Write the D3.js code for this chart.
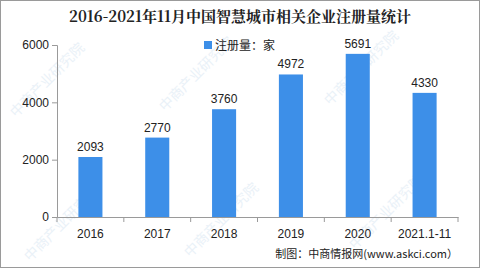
<!DOCTYPE html>
<html>
<head>
<meta charset="utf-8">
<script src="https://cdn.jsdelivr.net/npm/d3@7"></script>
<style>
  body { margin: 0; background: #fff; }
  svg { display: block; }
</style>
</head>
<body>
<svg id="chart" width="480" height="268"></svg>
<script>
// data
var years = ["2016", "2017", "2018", "2019", "2020", "2021.1-11"];
var registered = [2093, 2770, 3760, 4972, 5691, 4330];
var yTicks = [0, 2000, 4000, 6000];

var svg = d3.select("#chart");

// frame
svg.append("rect")
  .attr("x", 0.5).attr("y", 0.5)
  .attr("width", 479).attr("height", 267)
  .attr("fill", "#fff")
  .attr("stroke", "#9a9a9a");

// faint watermarks, kept inside the frame
var marks = [[16, 118], [165, 112], [330, 106], [30, 262], [190, 258], [355, 250]];
svg.selectAll("text.wm").data(marks).enter().append("text")
  .attr("class", "wm")
  .attr("transform", function(d) { return "translate(" + d[0] + "," + d[1] + ") rotate(-45)"; })
  .attr("font-family", "Noto Sans CJK SC")
  .attr("font-size", 14)
  .attr("fill", "#dce9f4")
  .attr("opacity", 0.6)
  .text("中商产业研究院");

var x = d3.scaleBand().domain(years).range([57, 458]).paddingInner(0.64).paddingOuter(0.32);
var y = d3.scaleLinear().domain([0, 6000]).range([217, 45]);

// title
svg.append("text")
  .attr("x", 240).attr("y", 22)
  .attr("text-anchor", "middle")
  .attr("font-family", "Noto Serif CJK SC, Noto Sans CJK SC")
  .attr("font-weight", "bold")
  .attr("font-size", 15)
  .attr("fill", "#222")
  .text("2016-2021年11月中国智慧城市相关企业注册量统计");

// axes
var yAxis = svg.append("g")
  .attr("transform", "translate(57,0)")
  .call(d3.axisLeft(y).tickValues(yTicks).tickSize(5).tickPadding(3).tickFormat(d3.format("d")));

var xAxis = svg.append("g")
  .attr("transform", "translate(0,217)")
  .call(d3.axisBottom(x).tickSize(0).tickPadding(12));

[yAxis, xAxis].forEach(function(g) {
  g.select(".domain").attr("stroke", "#9a9a9a");
  g.selectAll(".tick line").attr("stroke", "#9a9a9a");
  g.selectAll("text")
    .attr("font-family", "Liberation Sans, Arial")
    .attr("font-size", 12)
    .attr("fill", "#222");
});

// x tick marks between categories
var edges = [57].concat(years.map(function(d) { return x(d) - x.step() * x.paddingInner() / 2 + x.step(); }));
svg.selectAll("line.xt").data(edges).enter().append("line")
  .attr("class", "xt")
  .attr("x1", function(d) { return d; }).attr("x2", function(d) { return d; })
  .attr("y1", 217).attr("y2", 222)
  .attr("stroke", "#9a9a9a");

// bars
svg.selectAll("rect.bar").data(registered).enter().append("rect")
  .attr("class", "bar")
  .attr("x", function(d, i) { return x(years[i]); })
  .attr("y", function(d) { return y(d); })
  .attr("width", x.bandwidth())
  .attr("height", function(d) { return 217 - y(d); })
  .attr("fill", "#3d8fe8");

// value labels
svg.selectAll("text.val").data(registered).enter().append("text")
  .attr("class", "val")
  .attr("x", function(d, i) { return x(years[i]) + x.bandwidth() / 2; })
  .attr("y", function(d) { return y(d) - 6; })
  .attr("text-anchor", "middle")
  .attr("font-family", "Liberation Sans, Arial")
  .attr("font-size", 12)
  .attr("fill", "#222")
  .text(function(d) { return d; });

// legend
svg.append("rect")
  .attr("x", 204).attr("y", 41)
  .attr("width", 8).attr("height", 8)
  .attr("fill", "#3d8fe8");
svg.append("text")
  .attr("x", 215).attr("y", 50)
  .attr("font-family", "Noto Sans CJK SC")
  .attr("font-size", 12)
  .attr("fill", "#222")
  .text("注册量：家");

// source
svg.append("text")
  .attr("x", 458).attr("y", 258)
  .attr("text-anchor", "end")
  .attr("font-family", "Noto Sans CJK SC")
  .attr("font-size", 11)
  .attr("fill", "#222")
  .text("制图：中商情报网(www.askci.com）");
</script>
</body>
</html>
